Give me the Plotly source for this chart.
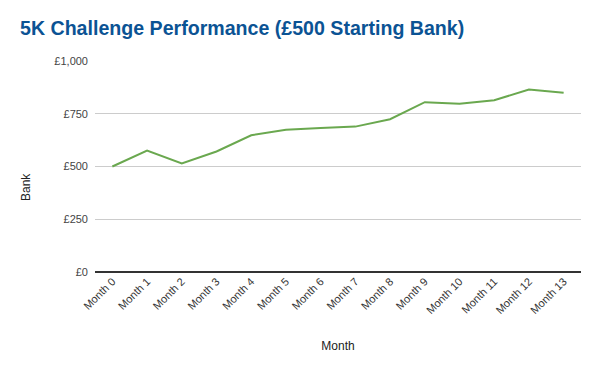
import plotly.graph_objects as go

months = [f"Month {i}" for i in range(14)]
bank = [500, 575, 514, 571, 648, 674, 683, 689, 724, 805, 797, 814, 865, 849]
y_ticks = [0, 250, 500, 750, 1000]
y_tick_labels = ["£0", "£250", "£500", "£750", "£1,000"]

fig = go.Figure()
fig.add_trace(go.Scatter(
    x=months, y=bank, mode="lines",
    line=dict(color="#6aa84f", width=2),
    showlegend=False,
))

fig.update_layout(
    width=600, height=371,
    margin=dict(l=87, r=27, t=53, b=107),
    paper_bgcolor="white", plot_bgcolor="white",
    font=dict(family="Liberation Sans, Arial, sans-serif", size=11, color="#222222"),
    title=dict(
        text="<b>5K Challenge Performance (£500 Starting Bank)</b>",
        x=12 / 600, xref="container", xanchor="left",
        y=1, yref="container", yanchor="top",
        pad=dict(t=13, l=0),
        font=dict(family="Liberation Sans, Arial, sans-serif", size=19.6, color="#0b5394"),
    ),
    xaxis=dict(
        title=dict(text="Month", font=dict(size=12, color="#222222"), standoff=26),
        tickangle=-45, showgrid=False, showline=False, zeroline=False,
        range=[-0.5, 13.5], ticks="", automargin=False,
        tickfont=dict(size=11, color="#333333"),
    ),
    yaxis=dict(
        range=[0, 1000], tickvals=y_ticks, ticktext=y_tick_labels,
        showgrid=True, gridcolor="#cccccc", gridwidth=1,
        zeroline=True, zerolinecolor="#333333", zerolinewidth=1.5,
        ticks="", automargin=False,
        tickfont=dict(size=11, color="#444444"), ticklabelstandoff=6,
    ),
    annotations=[dict(
        text="Bank", textangle=-90, showarrow=False,
        xref="paper", yref="paper",
        x=-(87 - 18) / 486, y=(264 - 179) / 211,
        xanchor="center", yanchor="middle",
        font=dict(size=12, color="#222222"),
    )],
)
fig.write_html("out.html")
